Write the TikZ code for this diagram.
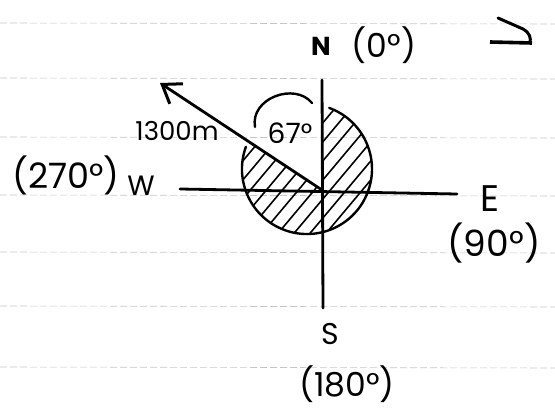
\documentclass[tikz,border=0pt]{standalone}
\usepackage{fontspec}
\setmainfont{Poppins}
\usetikzlibrary{arrows.meta}
\begin{document}
\begin{tikzpicture}[x=1pt,y=-1pt,
  rule/.style={gray!45,line width=0.6pt,dash pattern=on 7pt off 3pt},
  ink/.style={black,line width=2.8pt,line cap=round},
  hatch/.style={black,line width=1.6pt,line cap=round},
  lbl/.style={inner sep=0pt,font=#1},
  lbl/.default=\fontsize{30}{30}\selectfont]
\useasboundingbox (0,0) rectangle (555,412);
% ruled paper
\foreach \yy in {23,78,137,195,252,306,367}
  \draw[rule] (0,\yy) -- (555,\yy+1);
% key points
\coordinate (O) at (322,190);
\coordinate (Ntop) at (322,80);
\coordinate (Sbot) at (323,308);
\coordinate (Wend) at (180,189);
\coordinate (Eend) at (457,194);
\coordinate (tip) at (160,83);
\coordinate (C) at (307,169);
% hatched region
\begin{scope}
  \clip (O) -- (248.3,141.3) arc[start angle=205.3,end angle=-76.6,radius=65] -- cycle;
  \foreach \k in {120,136,...,420}
    \draw[hatch] (\k,250) -- ++(126,-150);
\end{scope}
% circle (open between arrow and north)
\draw[ink,line width=2.4pt] (245.9,146.8) arc[start angle=200,end angle=-70,radius=65];
% angle arc
\draw[ink,line width=2.4pt] (255,127) .. controls (250,98) and (295,82) .. (312,103);
% axes
\draw[ink] (Ntop) -- (Sbot);
\draw[ink] (Wend) -- (Eend);
% bearing arrow
\draw[ink,-{Straight Barb[length=17pt,width=24pt,line width=3pt]}] (O) -- (tip);
% labels
\node[lbl=\fontsize{26}{26}\bfseries] (N) at (321,46) {N};
\node[lbl=\fontsize{33}{33}\selectfont] (N0) at (384,45) {(0°)};
\node[lbl=\fontsize{26}{26}\selectfont] (dist) at (177,131) {1300m};
\node[lbl=\fontsize{28}{28}\selectfont] (ang) at (290,133) {67°};
\node[lbl=\fontsize{35}{35}\selectfont] (W0) at (66,175) {(270°)};
\node[lbl=\fontsize{28}{28}\selectfont] (W) at (141,186) {W};
\node[lbl=\fontsize{37}{37}\selectfont] (E) at (490,199) {E};
\node[lbl=\fontsize{36}{36}\selectfont] (E0) at (494,243) {(90°)};
\node[lbl=\fontsize{30}{30}\selectfont] (S) at (330,334) {S};
\node[lbl=\fontsize{33}{33}\selectfont] (S0) at (347,384) {(180°)};
% mark at top right
\draw[ink,line width=3pt] (498,18) -- (523,29) .. controls (530,33) and (531,38) .. (530,43);
\draw[ink,line width=3.6pt,line cap=butt] (490,42) -- (532,43);
\end{tikzpicture}
\end{document}
